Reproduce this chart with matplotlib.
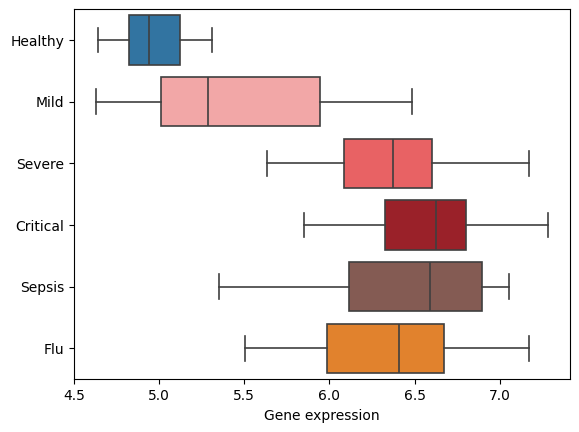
import matplotlib
matplotlib.use("Agg")
import matplotlib.pyplot as plt

categories = ["Healthy", "Mild", "Severe", "Critical", "Sepsis", "Flu"]
whislo = [4.64, 4.63, 5.634, 5.851, 5.352, 5.506]
q1 = [4.822, 5.012, 6.086, 6.325, 6.114, 5.986]
med = [4.941, 5.288, 6.374, 6.626, 6.591, 6.409]
q3 = [5.123, 5.945, 6.599, 6.804, 6.898, 6.673]
whishi = [5.311, 6.482, 7.174, 7.280, 7.055, 7.174]
colors = ["#3274a1", "#f2a7a7", "#e86264", "#9a2129", "#845b53", "#e1822d"]

fig = plt.figure(figsize=(5.79, 4.32), dpi=100)
ax = fig.add_axes([74 / 579, (432 - 379.3) / 432, 496 / 579, 370 / 432])

stats = []
for i, c in enumerate(categories):
    stats.append(dict(label=c, whislo=whislo[i], q1=q1[i], med=med[i],
                      q3=q3[i], whishi=whishi[i], fliers=[]))

lc = "#3f3f3f"
lw = 1.2
bp = ax.bxp(stats, positions=range(len(categories)), widths=0.8, vert=False,
            patch_artist=True, showfliers=False,
            boxprops=dict(edgecolor=lc, linewidth=lw),
            medianprops=dict(color=lc, linewidth=lw),
            whiskerprops=dict(color=lc, linewidth=lw),
            capprops=dict(color=lc, linewidth=lw), capwidths=0.4)
for patch, col in zip(bp["boxes"], colors):
    patch.set_facecolor(col)

ax.set_ylim(5.5, -0.5)
ax.set_yticks(range(len(categories)))
ax.set_yticklabels(categories)
ax.margins(x=0.05)
ax.set_xlim(4.508, 7.412)
ax.set_xticks([4.5, 5.0, 5.5, 6.0, 6.5, 7.0])
ax.set_xlabel("Gene expression")

fig.savefig("out.png", dpi=100)
